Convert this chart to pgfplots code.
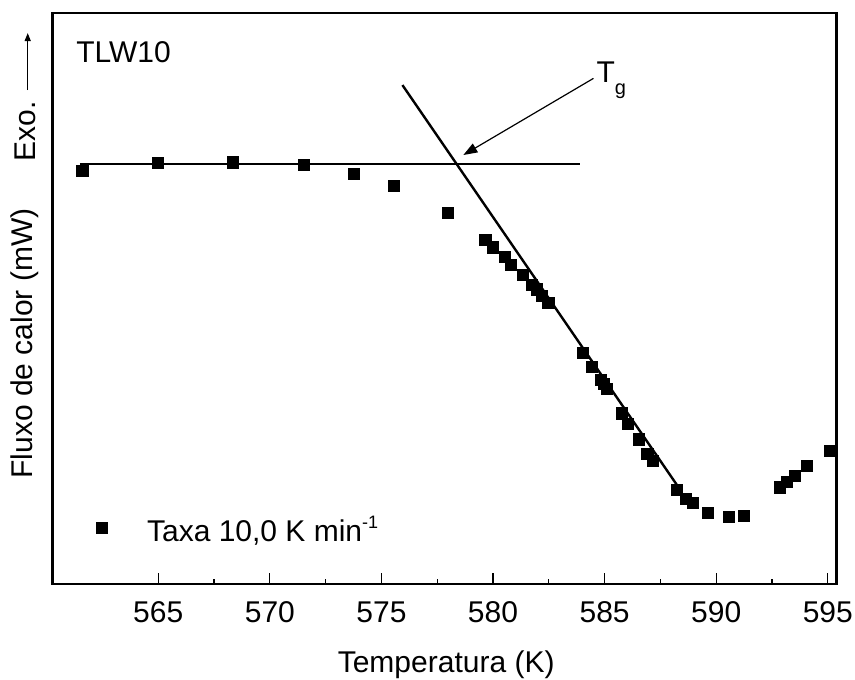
\documentclass[border=0pt]{standalone}
\usepackage{fontspec}
\setmainfont{Liberation Sans}
\usepackage{pgfplots}
\pgfplotsset{compat=1.18}
\usetikzlibrary{arrows.meta}

% DSC curve of TLW10 at 10 K/min: temperature (K) vs. heat flow (arbitrary units)
\pgfplotstableread{
T       Q
561.60  4.111
564.98  4.183
568.34  4.186
571.53  4.160
573.78  4.084
575.55  3.976
577.98  3.734
579.66  3.489
579.99  3.423
580.54  3.334
580.80  3.265
581.34  3.175
581.74  3.085
581.96  3.046
582.19  2.986
582.48  2.921
584.01  2.477
584.43  2.352
584.83  2.232
584.96  2.196
585.10  2.149
585.77  1.933
586.04  1.835
586.52  1.700
586.92  1.568
587.16  1.508
588.24  1.245
588.66  1.164
588.94  1.131
589.63  1.036
590.57  1.000
591.23  1.014
592.87  1.269
593.17  1.319
593.54  1.370
594.07  1.460
595.11  1.595
}\dsc

\begin{document}
\fontsize{15}{18}\selectfont
\begin{tikzpicture}
\begin{axis}[
  scale only axis,
  width=392pt, height=285.5pt,
  xmin=560.27, xmax=595.4,
  ymin=0.401, ymax=5.527,
  axis line style={line width=1.4pt},
  xtick={565,570,...,595},
  minor x tick num=1,
  ytick=\empty,
  minor ytick={1,2,3,4,5},
  xtick pos=left,
  ytick pos=both,
  tick align=inside,
  major tick length=5.3pt,
  minor tick length=2.6pt,
  tick style={line width=0.65pt, black},
  xticklabel style={anchor=base, yshift=-19pt},
  /pgf/number format/assume math mode=true,
  /pgf/number format/1000 sep={},
  clip=false,
]
  % measured points
  \addplot[only marks, mark=square*, mark size=2.8pt, mark options={fill=black, draw=black}]
    table[x=T, y=Q] {\dsc};

  % baseline and tangent used to locate Tg
  \addplot[black, line width=1.2pt] coordinates {(561.49,4.171) (583.90,4.171)};
  \addplot[black, line width=1.2pt] coordinates {(575.94,4.880) (588.24,1.290)};

  % Tg pointer
  \draw[line width=0.6pt, -{Triangle[length=7pt, width=5pt]}]
    (axis cs:584.50,4.940) -- (axis cs:578.67,4.252);
  \node[anchor=base west, inner sep=0pt] at (axis cs:584.62,4.907)
    {T\raisebox{-6pt}{\fontsize{10}{12}\selectfont g}};

  % sample name
  \node[anchor=west, inner sep=0pt] at (axis cs:561.31,5.172) {TLW10};

  % legend
  \addplot[only marks, mark=square*, mark size=2.8pt, mark options={fill=black, draw=black}]
    coordinates {(562.48,0.904)};
  \node[anchor=base west, inner sep=0pt] at (axis cs:564.48,0.782)
    {Taxa 10,0 K min\raisebox{6.5pt}{\fontsize{9}{10}\selectfont -1}};

  % axis titles
  \node[anchor=base, inner sep=0pt] at (axis cs:577.9,-0.389) {Temperatura (K)};
  \node[rotate=90, inner sep=0pt] at (axis cs:559.00,2.560) {Fluxo de calor (mW)};
  \node[rotate=90, inner sep=0pt] at (axis cs:559.05,4.463) {Exo.};
  \draw[line width=0.6pt, -{Triangle[length=4pt, width=3pt]}]
    (axis cs:559.15,4.835) -- (axis cs:559.15,5.347);
\end{axis}
\pgfresetboundingbox
\path ([shift={(-26.35pt,-47.5pt)}]current axis.south west)
  rectangle ([shift={(9.15pt,6.5pt)}]current axis.north east);
\end{tikzpicture}
\end{document}
